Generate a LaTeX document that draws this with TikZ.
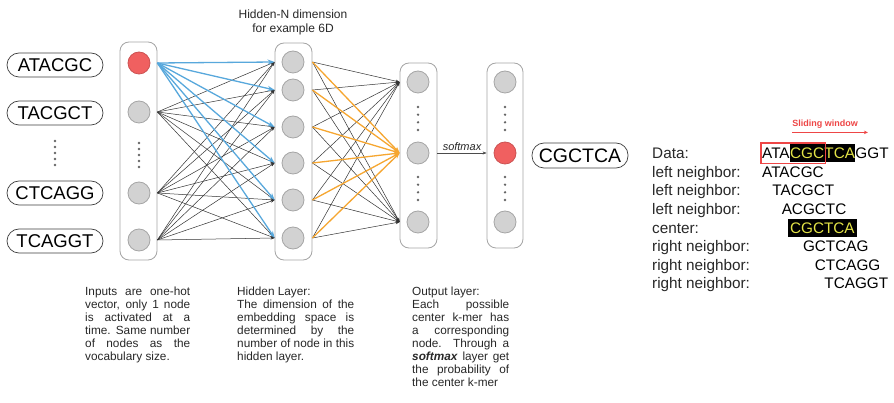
\documentclass[tikz,border=0pt]{standalone}
\usepackage{fontspec}
\setmainfont{Liberation Sans}
\usetikzlibrary{arrows.meta,calc,fit}
\definecolor{nodegray}{RGB}{210,210,210}
\definecolor{nodeedge}{RGB}{165,165,165}
\definecolor{hotred}{RGB}{240,96,96}
\definecolor{lineblue}{RGB}{88,168,220}
\definecolor{lineorange}{RGB}{246,166,48}
\definecolor{coledge}{RGB}{165,165,165}
\definecolor{txt}{RGB}{40,40,40}
\definecolor{hlyellow}{RGB}{226,226,70}
\definecolor{swred}{RGB}{238,70,70}
\begin{document}
\begin{tikzpicture}[x=1pt,y=-1pt,
  unit/.style={circle,minimum size=22pt,inner sep=0,fill=nodegray,draw=nodeedge,line width=0.8pt},
  hot/.style={unit,fill=hotred,draw=hotred!85!black},
  colbox/.style={draw=coledge,line width=0.8pt,rounded corners=9pt,fill=white,minimum width=37pt,inner sep=0},
  kmer/.style={draw=black!75,line width=0.7pt,rounded corners=12pt,minimum width=96pt,minimum height=24pt,inner sep=0,font=\fontsize{18.5}{20}\selectfont},
  dotmark/.style={circle,fill=black!60,inner sep=0,minimum size=2.6pt},
  wire/.style={draw=black!80,line width=0.5pt,-{Stealth[length=4pt,width=3pt]}},
  bluewire/.style={draw=lineblue,line width=1.3pt,-{Stealth[length=7pt,width=5pt]}},
  orangewire/.style={draw=lineorange,line width=1.3pt,-{Stealth[length=6pt,width=4.5pt]}},
  note/.style={anchor=north west,inner sep=0,align=left,text=txt,font=\fontsize{11.8}{13}\selectfont},
  seq/.style={anchor=base west,inner sep=0,font=\fontsize{15.3}{18}\selectfont},
  hl/.style={fill=black,text=hlyellow,text height=14.5pt,text depth=3.5pt},
  lab/.style={anchor=base west,inner sep=0,font=\fontsize{15.3}{18}\selectfont,text=txt},
]
\fill[white] (0,0) rectangle (894,403);
\useasboundingbox (0,0) rectangle (894,403);

% input k-mer labels
\node[kmer] (k1) at (55,65) {ATACGC};
\node[kmer] (k2) at (55,113) {TACGCT};
\node[kmer] (k3) at (55,193) {CTCAGG};
\node[kmer] (k4) at (55,241) {TCAGGT};
\foreach \y [count=\n] in {141,147,153,159,165} \node[dotmark] (kd\n) at (55,\y) {};

% columns
\node[colbox,minimum height=218pt] (incol) at (138.5,151) {};
\node[colbox,minimum height=217pt] (hidcol) at (293.5,151.5) {};
\node[colbox,minimum height=185pt] (outcol) at (418.5,155.5) {};
\node[colbox,minimum height=185pt,minimum width=36pt] (softcol) at (505,155.5) {};

% input nodes
\node[hot] (in1) at (139,63) {};
\node[unit] (in2) at (139,112) {};
\node[unit] (in3) at (139,193) {};
\node[unit] (in4) at (139,240) {};
\foreach \y [count=\n] in {143,149,155,161,167} \node[dotmark] (ind\n) at (139,\y) {};

% hidden nodes
\foreach \y [count=\n] in {62,90,127,163,200,238} \node[unit] (h\n) at (293,\y) {};

% output nodes
\node[unit] (o1) at (418,82) {};
\node[unit] (o2) at (418,153) {};
\node[unit] (o3) at (418,222) {};
\node[unit] (s1) at (505,82) {};
\node[hot] (s2) at (505,153) {};
\node[unit] (s3) at (505,222) {};
\foreach \y [count=\n] in {107,114.7,122.3,130,177,184.7,192.3,200} {
  \node[dotmark] (od\n) at (418,\y) {};
  \node[dotmark] (sd\n) at (505,\y) {};
}

% connections input -> hidden
\foreach \i in {2,3,4} \foreach \j in {1,...,6}
  \draw[wire] (in\i -| incol.east) -- (h\j -| hidcol.west);
\foreach \j in {1,...,6}
  \draw[bluewire] (in1 -| incol.east) -- (h\j -| hidcol.west);

% connections hidden -> output
\foreach \j in {1,...,6} \foreach \k in {1,3}
  \draw[wire] (h\j -| hidcol.east) -- (o\k -| outcol.west);
\foreach \j in {1,...,6}
  \draw[orangewire] (h\j -| hidcol.east) -- (o2 -| outcol.west);

% softmax
\draw[wire,draw=black!70] (o2 -| outcol.east) -- node[above,font=\itshape\fontsize{11}{12}\selectfont,text=txt,inner sep=2pt] (smx) {softmax} (s2 -| softcol.west);

\node[kmer,font=\fontsize{19.5}{21}\selectfont,minimum height=25pt] (outk) at (580,155.5) {CGCTCA};

% title
\node[align=center,font=\fontsize{12}{14}\selectfont,text=txt] (title) at (293,22) {Hidden-N dimension\\for example 6D};

% notes
\node[note] (n1) at (85,287) {\makebox[105pt][s]{Inputs are one-hot}\\
\makebox[105pt][s]{vector, only 1 node}\\
\makebox[105pt][s]{is activated at a}\\
\makebox[105pt][s]{time. Same number}\\
\makebox[105pt][s]{of nodes as the}\\
vocabulary size.};
\node[note] (n2) at (237,287) {Hidden Layer:\\
\makebox[117pt][s]{The dimension of the}\\
\makebox[117pt][s]{embedding space is}\\
\makebox[117pt][s]{determined by the}\\
\makebox[117pt][s]{number of node in this}\\
hidden layer.};
\node[note] (n3) at (412,287) {Output layer:\\
\makebox[97pt][s]{Each possible}\\
\makebox[97pt][s]{center k-mer has}\\
\makebox[97pt][s]{a corresponding}\\
\makebox[97pt][s]{node. Through a}\\
\makebox[97pt][s]{\textbf{\textit{softmax}} layer get}\\
\makebox[97pt][s]{the probability of}\\
the center k-mer};

% right panel labels
\node[lab] (L0) at (652,158.8) {Data:};
\node[lab] (L1) at (652,177.4) {left neighbor:};
\node[lab] (L2) at (652,195.9) {left neighbor:};
\node[lab] (L3) at (652,214.5) {left neighbor:};
\node[lab] (L4) at (652,233.1) {center:};
\node[lab] (L5) at (652,251.6) {right neighbor:};
\node[lab] (L6) at (652,270.2) {right neighbor:};
\node[lab] (L7) at (652,288.8) {right neighbor:};

% data sequence
\node[seq] (d1) at (762,158.8) {ATA};
\node[seq,hl] (d2) at (d1.base east) {CGC};
\node[seq,hl] (d3) at (d2.base east) {TCA};
\node[seq] (d4) at (d3.base east) {GGT};
\node[draw=swred,line width=1.2pt,fit=(d1)(d2),inner sep=1pt] (win) {};

% neighbours
\node[seq] (q1) at (d1.base west |- L1.base) {ATACGC};
\node[seq] (q2) at ($(d1.base west |- L2.base)+(10.2,0)$) {TACGCT};
\node[seq] (q3) at ($(d1.base west |- L3.base)+(19.55,0)$) {ACGCTC};
\node[seq,hl,inner xsep=2.5pt] (q4) at ($(d2.base west |- L4.base)+(-2.5,0)$) {CGCTCA};
\node[seq] (q5) at ($(d1.base west |- L5.base)+(40.81,0)$) {GCTCAG};
\node[seq] (q6) at ($(d1.base west |- L6.base)+(52.71,0)$) {CTCAGG};
\node[seq] (q7) at (d3.base west |- L7.base) {TCAGGT};

% sliding window
\node[text=swred,font=\bfseries\fontsize{9}{10}\selectfont,inner sep=0] (swl) at (825,124) {Sliding window};
\coordinate (sw1) at ($(swl.south west)+(0,4)$);
\coordinate (sw2) at ($(swl.south east)+(10,4)$);
\draw[swred,line width=0.9pt,-{Stealth[length=4pt,width=3.5pt]}] (sw1) -- (sw2);
\end{tikzpicture}
\end{document}
